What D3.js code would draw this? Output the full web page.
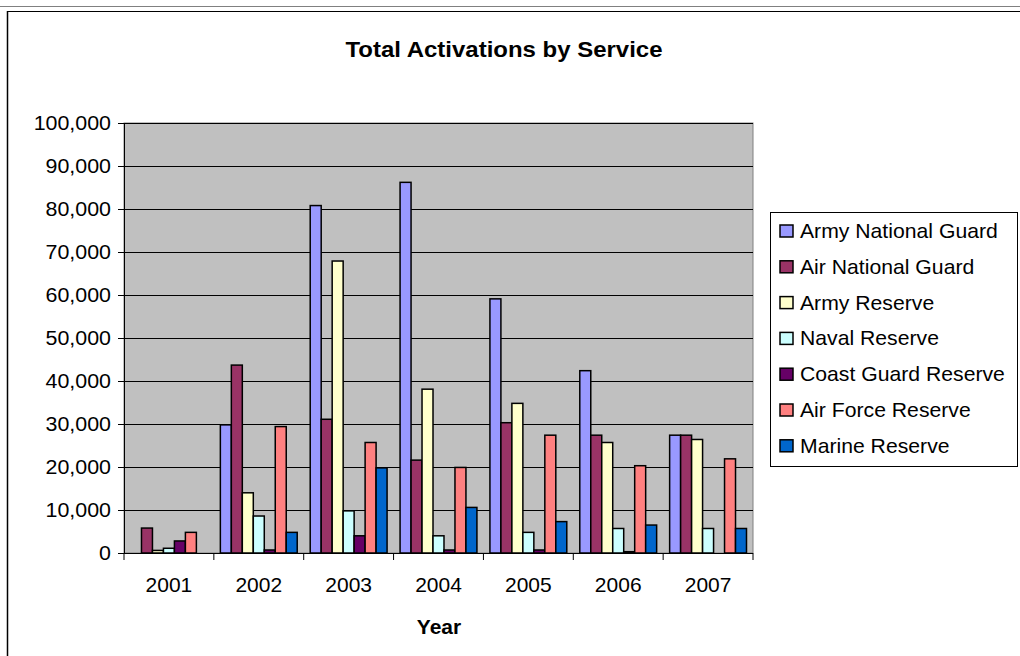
<!DOCTYPE html>
<html>
<head>
<meta charset="utf-8">
<script src="https://cdn.jsdelivr.net/npm/d3@7"></script>
<style>
  html, body { margin: 0; padding: 0; background: #fff; }
  svg { display: block; font-family: "Liberation Sans", Arial, sans-serif; }
</style>
</head>
<body>
<svg id="chart" width="1020" height="656"></svg>
<script>
const years = ["2001", "2002", "2003", "2004", "2005", "2006", "2007"];
const seriesNames = ["Army National Guard", "Air National Guard", "Army Reserve", "Naval Reserve", "Coast Guard Reserve", "Air Force Reserve", "Marine Reserve"];
const seriesColors = ["#9999FF", "#993366", "#FFFFCC", "#CCFFFF", "#660066", "#FF8080", "#0066CC"];
const armyNationalGuard = [0, 29800, 80800, 86200, 59100, 42400, 27400];
const airNationalGuard  = [5800, 43700, 31100, 21600, 30300, 27400, 27400];
const armyReserve       = [600, 14000, 67900, 38100, 34800, 25700, 26400];
const navalReserve      = [1100, 8600, 9800, 4000, 4800, 5700, 5700];
const coastGuardReserve = [2800, 700, 4000, 700, 700, 300, 0];
const airForceReserve   = [4800, 29400, 25700, 19900, 27400, 20300, 21900];
const marineReserve     = [0, 4800, 19800, 10600, 7300, 6500, 5700];
const yTicks = [0, 10000, 20000, 30000, 40000, 50000, 60000, 70000, 80000, 90000, 100000];

const seriesValues = [armyNationalGuard, airNationalGuard, armyReserve, navalReserve, coastGuardReserve, airForceReserve, marineReserve];

const svg = d3.select("#chart");

// horizontal stretch of text around its anchor x (mimics the wider GDI rendering)
function stretch(sel, k) {
  sel.each(function () {
    const x = +this.getAttribute("x") || 0;
    d3.select(this).attr("transform", `translate(${x},0) scale(${k},1) translate(${-x},0)`);
  });
}

// outer frame
svg.append("line").attr("x1", 0).attr("x2", 1020).attr("y1", 6.5).attr("y2", 6.5).attr("stroke", "#808080").attr("stroke-width", 1);
svg.append("line").attr("x1", 7).attr("x2", 1020).attr("y1", 11.5).attr("y2", 11.5).attr("stroke", "#000").attr("stroke-width", 1);
svg.append("line").attr("x1", 7.5).attr("x2", 7.5).attr("y1", 11).attr("y2", 656).attr("stroke", "#000").attr("stroke-width", 1.5);

const plot = { left: 124, right: 753, top: 123, bottom: 553 };

const x0 = d3.scaleBand().domain(years).range([plot.left, plot.right]).paddingInner(0).paddingOuter(0);
const x1 = d3.scaleBand().domain(d3.range(seriesNames.length)).range([6.5, x0.bandwidth() - 6.5]).padding(0);
const y = d3.scaleLinear().domain([0, 100000]).range([plot.bottom, plot.top]);

// plot background
svg.append("rect").attr("x", plot.left).attr("y", plot.top)
  .attr("width", plot.right - plot.left).attr("height", plot.bottom - plot.top)
  .attr("fill", "#C0C0C0").attr("stroke", "#808080").attr("stroke-width", 1);

// gridlines
svg.append("g").selectAll("line").data(yTicks.filter(d => d > 0)).join("line")
  .attr("x1", plot.left).attr("x2", plot.right)
  .attr("y1", d => Math.round(y(d)) + 0.5).attr("y2", d => Math.round(y(d)) + 0.5)
  .attr("stroke", "#000").attr("stroke-width", 1);

// bars
const groups = svg.append("g").selectAll("g").data(years).join("g")
  .attr("transform", d => `translate(${x0(d)},0)`);
groups.selectAll("rect").data((yr, i) => seriesValues.map((vals, s) => ({ s, v: vals[i] })).filter(d => d.v > 0)).join("rect")
  .attr("x", d => x1(d.s))
  .attr("y", d => y(d.v))
  .attr("width", x1.bandwidth())
  .attr("height", d => y(0) - y(d.v))
  .attr("fill", d => seriesColors[d.s])
  .attr("stroke", "#000")
  .attr("stroke-width", 1.5);

// y axis
const yAxis = d3.axisLeft(y).tickValues(yTicks).tickSize(6).tickPadding(7).tickFormat(d3.format(","));
const gy = svg.append("g").attr("transform", `translate(${plot.left},0)`).call(yAxis);
gy.select(".domain").attr("stroke", "#000");
gy.selectAll(".tick line").attr("stroke", "#000");
gy.selectAll("text").attr("font-size", 20).attr("fill", "#000")
  .attr("font-family", "Liberation Sans, Arial, sans-serif").attr("dy", "0.3em");
stretch(gy.selectAll("text"), 1.07);

// x axis
const gx = svg.append("g").attr("transform", `translate(0,${plot.bottom})`);
gx.append("line").attr("x1", plot.left).attr("x2", plot.right).attr("y1", 0.5).attr("y2", 0.5).attr("stroke", "#000");
const boundaries = years.map(d => x0(d)).concat([plot.right]);
gx.selectAll("line.tk").data(boundaries).join("line").attr("class", "tk")
  .attr("x1", d => d).attr("x2", d => d).attr("y1", 0).attr("y2", 7).attr("stroke", "#000");
const xl = gx.selectAll("text").data(years).join("text")
  .attr("x", d => x0(d) + x0.bandwidth() / 2).attr("y", 39)
  .attr("text-anchor", "middle").attr("font-size", 20).attr("fill", "#000")
  .text(d => d);
stretch(xl, 1.05);

// titles
const title = svg.append("text").attr("x", 504).attr("y", 57).attr("text-anchor", "middle")
  .attr("font-size", 22).attr("font-weight", "bold").text("Total Activations by Service");
stretch(title, 1.09);
const xt = svg.append("text").attr("x", 439).attr("y", 634).attr("text-anchor", "middle")
  .attr("font-size", 20).attr("font-weight", "bold").text("Year");
stretch(xt, 1.05);

// legend
const legend = svg.append("g");
legend.append("rect").attr("x", 770.5).attr("y", 212.5).attr("width", 247).attr("height", 254)
  .attr("fill", "#fff").attr("stroke", "#000").attr("stroke-width", 1);
const items = legend.selectAll("g").data(seriesNames).join("g")
  .attr("transform", (d, i) => `translate(780,${231 + i * 35.8})`);
items.append("rect").attr("x", 0).attr("y", -6).attr("width", 13).attr("height", 12)
  .attr("fill", (d, i) => seriesColors[i]).attr("stroke", "#000").attr("stroke-width", 1.5);
const lt = items.append("text").attr("x", 20).attr("y", 7).attr("font-size", 20).attr("fill", "#000").text(d => d);
stretch(lt, 1.06);
</script>
</body>
</html>
